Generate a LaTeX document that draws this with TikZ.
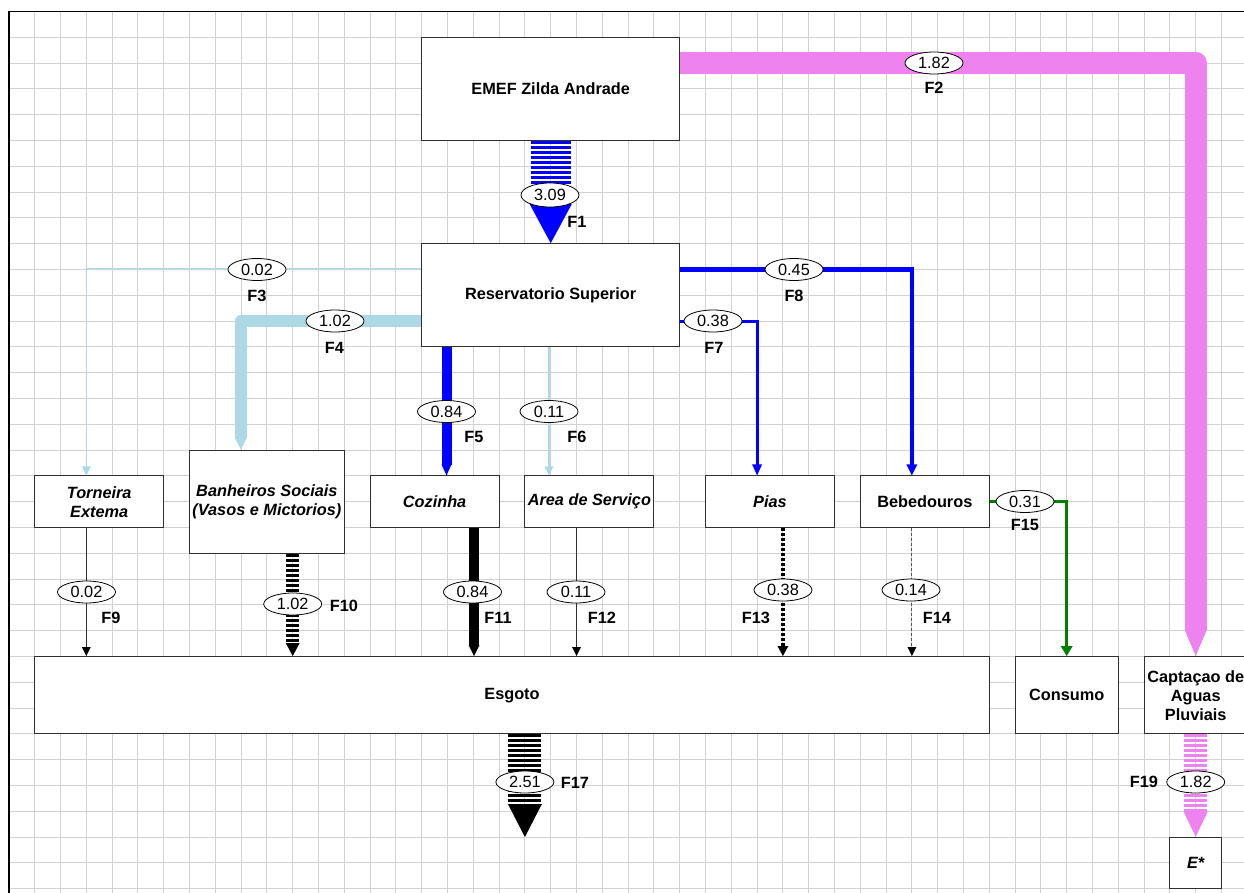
\documentclass[tikz,border=0pt]{standalone}
\usepackage{fontspec}
\setmainfont{Liberation Sans}
\usetikzlibrary{shapes.geometric,calc}
\definecolor{lblue}{HTML}{ADD8E6}
\definecolor{pviolet}{HTML}{EE82EE}
\definecolor{dgreen}{HTML}{008000}
\definecolor{gridc}{HTML}{D2D2D2}
\definecolor{edgec}{HTML}{303030}
\definecolor{dashc}{HTML}{555555}
\newcommand\downtip[4]{\fill[#1] (#2) -- ++({-0.5*#3},{-#4}) -- ++({#3},0) -- cycle;}
\begin{document}
\begin{tikzpicture}[x=1pt,y=-1pt,
  box/.style={draw=edgec, line width=1pt, fill=white, align=center, inner sep=1pt,
    font=\fontsize{16.3}{19}\selectfont\bfseries},
  ibox/.style={box, font=\fontsize{16.3}{19}\selectfont\bfseries\itshape},
  val/.style={ellipse, draw=black, line width=0.8pt, fill=white, minimum width=58pt,
    minimum height=22pt, inner sep=0pt, font=\fontsize{16.3}{19}\selectfont},
  flab/.style={inner sep=0pt, font=\fontsize{16.3}{19}\selectfont\bfseries},
  stripes/.style={preaction={draw=white, solid}, dash pattern=on 3pt off 2pt},
  gridline/.style={gridc, line width=1pt},
  thinflow/.style={line width=1.4pt}
]
\useasboundingbox (0,0) rectangle (1244,893);
\fill[white] (0,0) rectangle (1244,893);
% grid
\foreach \i in {0,...,46} \draw[gridline] ({34.7+25.8*\i},11.5) -- ({34.7+25.8*\i},893);
\foreach \j in {0,...,33} \draw[gridline] (8.9,{37.3+25.8*\j}) -- (1244,{37.3+25.8*\j});
\draw[black, line width=1.3pt] (8.9,893) -- (8.9,11.5) -- (1244,11.5);

% nodes
\node[box, minimum width=258pt, minimum height=103.2pt] (emef) at (550.7,88.9) {EMEF Zilda Andrade};
\node[box, minimum width=258pt, minimum height=103.2pt] (res) at (550.7,295.3) {Reservatorio Superior};
\node[ibox, minimum width=129pt, minimum height=51.6pt] (torn) at (99.2,501.7) {Torneira\\Extema};
\node[ibox, minimum width=154.8pt, minimum height=103.2pt] (banh) at (266.9,501.7) {Banheiros Sociais\\(Vasos e Mictorios)};
\node[ibox, minimum width=129pt, minimum height=51.6pt] (coz) at (434.6,501.7) {Cozinha};
\node[ibox, minimum width=129pt, minimum height=51.6pt] (area) at (589.4,501.7) {Area de Serviço};
\node[ibox, minimum width=129pt, minimum height=51.6pt] (pias) at (770,501.7) {Pias};
\node[box, minimum width=129pt, minimum height=51.6pt] (bebe) at (924.8,501.7) {Bebedouros};
\node[box, minimum width=954.6pt, minimum height=77.4pt] (esg) at (512,695.2) {Esgoto};
\node[box, minimum width=103.2pt, minimum height=77.4pt] (cons) at (1066.7,695.2) {Consumo};
\node[box, minimum width=103.2pt, minimum height=77.4pt] (capt) at (1195.7,695.2) {Captaçao de\\Aguas\\Pluviais};
\node[ibox, minimum width=51.6pt, minimum height=51.6pt] (estar) at (1195.7,863) {E*};

% coordinates
\coordinate (t3) at (torn.north -| 86.3,0);
\coordinate (t4) at (banh.north -| 240.9,0);
\coordinate (s5) at (res.south -| 446.5,0);
\coordinate (t5) at (coz.north -| 446.5,0);
\coordinate (s6) at (res.south -| 549,0);
\coordinate (t6) at (area.north -| 549,0);
\coordinate (t7) at (pias.north -| 757.1,0);
\coordinate (t8) at (bebe.north -| 911.9,0);
\coordinate (s9) at (torn.south -| 86.3,0);
\coordinate (t9) at (esg.north -| 86.3,0);
\coordinate (s10) at (banh.south -| 292.7,0);
\coordinate (t10) at (esg.north -| 292.7,0);
\coordinate (s11) at (coz.south -| 474,0);
\coordinate (t11) at (esg.north -| 474,0);
\coordinate (s12) at (area.south -| 576.5,0);
\coordinate (t12) at (esg.north -| 576.5,0);
\coordinate (s13) at (pias.south -| 782.9,0);
\coordinate (t13) at (esg.north -| 782.9,0);
\coordinate (s14) at (bebe.south -| 911.9,0);
\coordinate (t14) at (esg.north -| 911.9,0);
\coordinate (s17) at (esg.south -| 524.9,0);
\coordinate (e17) at (524.9,837);

% F1
\draw[blue, line width=40pt, stripes] (emef.south) -- ([yshift=38pt]res.north);
\downtip{blue}{res.north}{42}{39}
% F2
\draw[pviolet, line width=22pt, line join=round] (emef.east |- 0,63) -| ([yshift=26pt]capt.north);
\downtip{pviolet}{capt.north}{22}{26}
% F3
\draw[lblue, thinflow] (res.west |- 0,268.8) -| ([yshift=8pt]t3);
\downtip{lblue}{t3}{9}{9}
% F4
\draw[lblue, line width=12pt, line join=round] (res.west |- 0,321) -| ([yshift=12pt]t4);
\downtip{lblue}{t4}{12}{12}
% F5
\draw[blue, line width=10pt] (s5) -- ([yshift=10pt]t5);
\downtip{blue}{t5}{10}{11}
% F6
\draw[lblue, thinflow] (s6) -- ([yshift=8pt]t6);
\downtip{lblue}{t6}{9}{9}
% F7
\draw[blue, line width=3pt] (res.east |- 0,321) -| ([yshift=10pt]t7);
\downtip{blue}{t7}{10}{11}
% F8
\draw[blue, line width=4.5pt] (res.east |- 0,269.5) -| ([yshift=10pt]t8);
\downtip{blue}{t8}{11}{11}
% F9
\draw[edgec, line width=1pt] (s9) -- ([yshift=8pt]t9);
\downtip{black}{t9}{9}{9}
% F10
\draw[black, line width=13pt, stripes] (s10) -- ([yshift=13pt]t10);
\downtip{black}{t10}{14}{13}
% F11
\draw[black, line width=10pt] (s11) -- ([yshift=10pt]t11);
\downtip{black}{t11}{11}{11}
% F12
\draw[edgec, line width=1pt] (s12) -- ([yshift=8pt]t12);
\downtip{black}{t12}{9}{9}
% F13
\draw[black, line width=4.5pt, dash pattern=on 3pt off 2pt] (s13) -- ([yshift=10pt]t13);
\downtip{black}{t13}{11}{10}
% F14
\draw[dashc, line width=1pt, dash pattern=on 3pt off 2pt] (s14) -- ([yshift=8pt]t14);
\downtip{black}{t14}{9}{9}
% F15
\draw[dgreen, line width=3pt] (bebe.east) -| ([yshift=10pt]cons.north);
\downtip{dgreen}{cons.north}{12}{10}
% F17
\draw[black, line width=33pt, stripes] (s17) -- ([yshift=33pt]e17);
\downtip{black}{e17}{34}{33}
% F19
\draw[pviolet, line width=23pt, stripes] (capt.south) -- ([yshift=25pt]estar.north);
\downtip{pviolet}{estar.north}{24}{25}

% value labels
\node[val, minimum height=24pt] (v1) at (550,195) {3.09};
\node[flab] (l1) at (577,222) {F1};
\node[val] (v2) at (934,63) {1.82};
\node[flab] (l2) at (934,88) {F2};
\node[val] (v3) at (257,269.5) {0.02};
\node[flab] (l3) at (257,296) {F3};
\node[val] (v4) at (335,321) {1.02};
\node[flab] (l4) at (334.5,348) {F4};
\node[val] (v5) at (446.5,411.5) {0.84};
\node[flab] (l5) at (474,437) {F5};
\node[val] (v6) at (549,411.5) {0.11};
\node[flab] (l6) at (577,437) {F6};
\node[val] (v7) at (713,321) {0.38};
\node[flab] (l7) at (714,348) {F7};
\node[val] (v8) at (794,269.5) {0.45};
\node[flab] (l8) at (794,296) {F8};
\node[val] (v9) at (86.5,592) {0.02};
\node[flab] (l9) at (111,618) {F9};
\node[val] (v10) at (292.7,604) {1.02};
\node[flab] (l10) at (344,606) {F10};
\node[val] (v11) at (472.5,592) {0.84};
\node[flab] (l11) at (498,618) {F11};
\node[val] (v12) at (576,592) {0.11};
\node[flab] (l12) at (602,618) {F12};
\node[val] (v13) at (783,590) {0.38};
\node[flab] (l13) at (756,618) {F13};
\node[val] (v14) at (911,590) {0.14};
\node[flab] (l14) at (937,618) {F14};
\node[val] (v15) at (1025,501.5) {0.31};
\node[flab] (l15) at (1025,525) {F15};
\node[val] (v17) at (524.9,782) {2.51};
\node[flab] (l17) at (575,783) {F17};
\node[val] (v19) at (1195.7,782) {1.82};
\node[flab] (l19) at (1144,782) {F19};
\end{tikzpicture}
\end{document}
